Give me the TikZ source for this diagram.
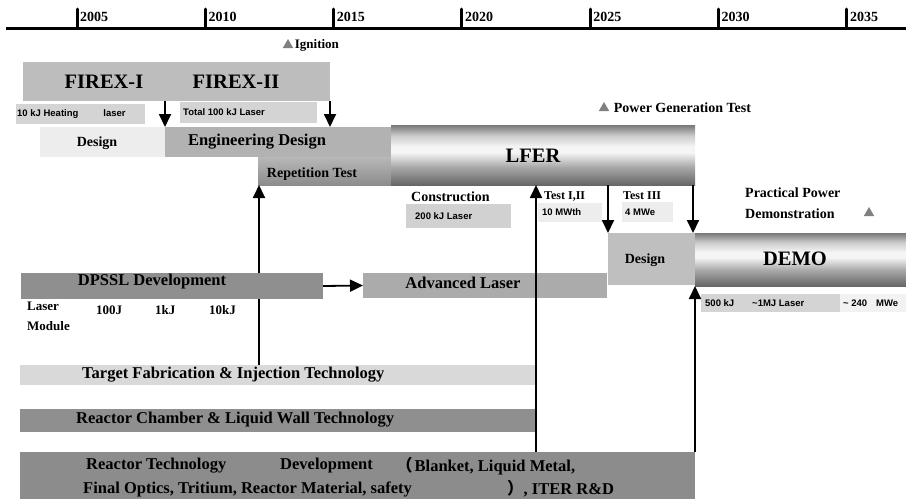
\documentclass[tikz,border=0pt]{standalone}
\usepackage{fontspec}
\setmainfont{Liberation Serif}
\newfontfamily\labsans{Liberation Sans}
\newfontfamily\cjkfont{Noto Sans CJK SC}
\usetikzlibrary{positioning}
\usetikzlibrary{arrows.meta, shapes.geometric}

\definecolor{mbot}{gray}{0.40}
\definecolor{mmid}{gray}{0.66}
\definecolor{mlight}{gray}{0.96}
\definecolor{mup}{gray}{0.80}
\definecolor{mtop}{gray}{0.47}
\pgfdeclareverticalshading{metal}{100bp}{color(0bp)=(mbot); color(25bp)=(mbot); color(40bp)=(mmid); color(52bp)=(mlight); color(57bp)=(mlight); color(66bp)=(mup); color(75bp)=(mtop); color(100bp)=(mtop)}

\begin{document}
\begin{tikzpicture}[x=1pt, y=-1pt,
  bar/.style={inner sep=0pt, outer sep=0pt, anchor=north west},
  lab/.style={inner sep=0pt, anchor=west},
  big/.style={font=\fontsize{20.5}{22}\selectfont\bfseries},
  mid/.style={font=\fontsize{16.5}{18}\selectfont\bfseries},
  sml/.style={font=\fontsize{14}{16}\selectfont\bfseries},
  tny/.style={font=\fontsize{13}{15}\selectfont\bfseries},
  sans/.style={font=\labsans\fontsize{9.5}{11}\selectfont\bfseries},
  tri/.style={regular polygon, regular polygon sides=3, fill=black!50, inner sep=0pt, minimum size=12pt},
  arr/.style={line width=1.8pt, -{Triangle[length=13pt, width=12pt]}}]
\useasboundingbox (0,0) rectangle (906,499);

% time axis
\draw[line width=3pt] (6,28) -- (906,28);
\foreach \yr [count=\i from 0] in {2005,2010,...,2035} {
  \coordinate (t\yr) at ({77+128.3*\i},28);
  \draw[line width=3pt, line cap=round] (t\yr) -- ++(0,-19);
  \node[lab, font=\fontsize{14}{16}\selectfont\bfseries, xshift=3pt, yshift=11pt] (y\yr) at (t\yr) {\yr};
}

% FIREX
\node[tri] (ign) at (288,45) {};
\node[tny, lab, right=3pt of ign] (igntxt) {Ignition};
\node[bar, fill=black!26, minimum width=307pt, minimum height=39pt] (firex) at (23,62) {};
\node[big] (firex1) at (104,82) {FIREX-I};
\node[big] (firex2) at (236,82) {FIREX-II};
\node[bar, fill=black!17, minimum width=129pt, minimum height=20pt] (heat) at (16,104) {};
\node[sans, lab, xshift=1pt] (heattxt) at (heat.west) {10 kJ Heating\hspace{25pt}laser};
\node[bar, fill=black!17, minimum width=137pt, minimum height=21pt] (total) at (180,102) {};
\node[sans, lab, xshift=3pt] (totaltxt) at (total.west) {Total 100 kJ Laser};

% design phases
\node[bar, fill=black!7, minimum width=125pt, minimum height=30pt] (design) at (40,127) {};
\node[sml] (designtxt) at (97,143) {Design};
\node[bar, fill=black!30, minimum width=226pt, minimum height=30pt] (engdes) at (165,127) {};
\node[mid] (engtxt) at (257,142) {Engineering Design};
\node[bar, top color=black!28, bottom color=black!45, minimum width=133pt, minimum height=28pt] (rep) at (258,157) {};
\node[sml] (reptxt) at (312,174) {Repetition Test};

% LFER
\node[bar, shade, shading=metal, minimum width=304pt, minimum height=60pt] (lfer) at (391,125) {};
\node[big] (lfertxt) at (533,156) {LFER};
\node[tri] (pgt) at (604,108) {};
\node[sml, lab, right=6pt of pgt] (pgttxt) {Power Generation Test};
\node[sml, lab] (constr) at (411,197) {Construction};
\node[bar, fill=black!18, minimum width=105pt, minimum height=24pt] (las200) at (406,204) {};
\node[sans, lab, xshift=9pt] (las200txt) at (las200.west) {200 kJ Laser};
\node[lab, font=\fontsize{12}{14}\selectfont\bfseries] (test12) at (544,196) {Test I,II};
\node[bar, fill=black!7, minimum width=64pt, minimum height=19pt] (mwth) at (538,203) {};
\node[sans, lab, xshift=4pt] (mwthtxt) at (mwth.west) {10 MWth};
\node[lab, font=\fontsize{12}{14}\selectfont\bfseries] (test3) at (623,196) {Test III};
\node[bar, fill=black!7, minimum width=51pt, minimum height=20pt] (mwe) at (622,202) {};
\node[sans, lab, xshift=3pt] (mwetxt) at (mwe.west) {4 MWe};

% DEMO
\node[sml, lab] (ppd1) at (745,193) {Practical Power};
\node[sml, lab] (ppd2) at (745,214) {Demonstration};
\node[tri] (ppdtri) at (869,213) {};
\node[bar, fill=black!25, minimum width=87pt, minimum height=52pt] (demodes) at (608,233) {};
\node[sml] (demodestxt) at (645,260) {Design};
\node[bar, shade, shading=metal, minimum width=211pt, minimum height=53pt] (demo) at (695,233) {};
\node[big] (demotxt) at (795,259) {DEMO};
\node[bar, fill=black!17, minimum width=139pt, minimum height=18pt] (las1mj) at (701,294) {};
\node[sans, lab, xshift=4pt] (las1mjtxt) at (las1mj.west) {500 kJ\hspace{18pt}\textasciitilde1MJ Laser};
\node[bar, fill=black!5, minimum width=66pt, minimum height=18pt] (mwe240) at (840,294) {};
\node[sans, lab, xshift=3pt] (mwe240txt) at (mwe240.west) {\textasciitilde\ 240\hspace{9pt}MWe};

% lasers
\node[bar, fill=black!44, minimum width=302pt, minimum height=26pt] (dpssl) at (21,273) {};
\node[mid] (dpssltxt) at (152,282) {DPSSL Development};
\node[bar, fill=black!33, minimum width=244pt, minimum height=25pt] (adv) at (363,273) {};
\node[mid] (advtxt) at (463,283) {Advanced Laser};
\node[tny, lab] (lmod1) at (27,306) {Laser};
\node[tny, lab] (lmod2) at (27,326) {Module};
\node[tny, lab] (e100) at (96,310) {100J};
\node[tny, lab] (e1k) at (155,310) {1kJ};
\node[tny, lab] (e10k) at (209,310) {10kJ};

% technology bars
\node[bar, fill=black!15, minimum width=516pt, minimum height=20pt] (targ) at (20,365) {};
\node[mid, lab] (targtxt) at (82,375) {Target Fabrication \& Injection Technology};
\node[bar, fill=black!44, minimum width=516pt, minimum height=23pt] (chamb) at (20,409) {};
\node[mid, lab] (chambtxt) at (76,420) {Reactor Chamber \& Liquid Wall Technology};
\node[bar, fill=black!45, minimum width=675pt, minimum height=47pt] (rtech) at (20,452) {};
\node[mid, lab] (rt1) at (86,466) {Reactor Technology};
\node[mid, lab] (rt2) at (280,466) {Development};
\node[mid, lab] (rt3) at (396,466) {{\cjkfont （}\hspace{2pt}Blanket, Liquid Metal,};
\node[mid, lab] (rt4) at (83,489) {Final Optics, Tritium, Reactor Material, safety};
\node[mid, lab] (rt5) at (507,489) {{\cjkfont ）}, ITER R\&D};

% arrows
\draw[arr] (firex.south -| engdes.west) -- (engdes.north west);
\draw[arr] (firex.south east) -- (firex.south east |- engdes.north);
\draw[line width=1.8pt] ([xshift=1pt]rep.south west |- targ.north) -- ([xshift=1pt]rep.south west |- dpssl.south);
\draw[arr] ([xshift=1pt]rep.south west |- dpssl.north) -- ([xshift=1pt]rep.south west);
\draw[arr] (targ.east |- rtech.north) -- (targ.east |- lfer.south);
\draw[arr] (demodes.west |- lfer.south) -- (demodes.north west);
\draw[arr] ([xshift=-2pt]lfer.south east) -- ([xshift=-2pt]lfer.south east |- demo.north);
\draw[arr] (rtech.north east) -- (rtech.north east |- demo.south);
\draw[arr] (dpssl.east) -- (adv.west);

\end{tikzpicture}
\end{document}
